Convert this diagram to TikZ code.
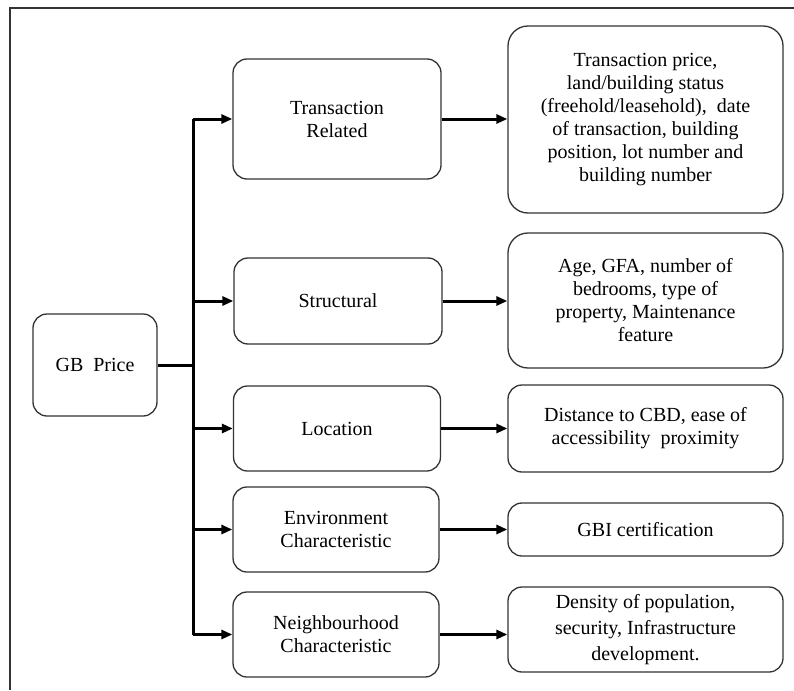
\documentclass[tikz,border=0pt]{standalone}
\usepackage{fontspec}
\setmainfont{Liberation Serif}
\newfontfamily\labelfont{Liberation Serif}[Scale=1.0]
\usetikzlibrary{arrows.meta}
\definecolor{edge}{HTML}{333333}
\begin{document}
\begin{tikzpicture}[x=1pt,y=-1pt,
  box/.style={draw=edge,line width=1.3pt,rounded corners=14pt,inner sep=0pt,
    align=center,font=\labelfont\fontsize{20}{23}\selectfont,text=black},
  link/.style={line width=3pt,black},
  arr/.style={link,-{Triangle[length=11pt,width=9pt]}}]
\useasboundingbox (0,0) rectangle (794,690);
% partial outer frame
\draw[edge,line width=1.5pt] (10,690) -- (10,8) -- (794,8);

% root
\node[box,minimum width=124pt,minimum height=102pt] (gb) at (95,365) {GB~~Price};

% factor groups
\node[box,minimum width=208pt,minimum height=120pt] (tr) at (337,119) {Transaction\\Related};
\node[box,minimum width=208pt,minimum height=86pt]  (st) at (338,301) {Structural};
\node[box,minimum width=207pt,minimum height=85pt]  (lo) at (337,428.5) {Location};
\node[box,minimum width=206pt,minimum height=85pt]  (en) at (336,529.5) {Environment\\Characteristic};
\node[box,minimum width=206pt,minimum height=85pt]  (ne) at (336,634.5) {Neighbourhood\\Characteristic};

% details
\node[box,rounded corners=20pt,minimum width=275pt,minimum height=187pt] (trd) at (645.5,119.5)
  {Transaction price,\\land/building status\\(freehold/leasehold),~~date\\of transaction, building\\position, lot number and\\building number};
\node[box,rounded corners=20pt,minimum width=275pt,minimum height=135pt] (std) at (645.5,300.5)
  {Age, GFA, number of\\bedrooms, type of\\property, Maintenance\\feature};
\node[box,minimum width=275pt,minimum height=87pt] (lod) at (645.5,428.5)
  {Distance to CBD, ease of\\accessibility~~proximity};
\node[box,minimum width=275pt,minimum height=53pt] (end) at (645.5,529.5) {GBI certification};
\node[box,font=\labelfont\fontsize{20}{26}\selectfont,minimum width=275pt,minimum height=85pt] (ned) at (645.5,629.5)
  {Density of population,\\security, Infrastructure\\development.};

% trunk from the root
\coordinate (trunk) at (193,365);
\draw[link] (gb.east) -- (trunk);
\draw[link] (trunk |- tr.west) -- (trunk |- ne.west);
\foreach \n in {tr,st,lo,en,ne}
  \draw[arr] (trunk |- \n.west) -- (\n.west);

% group to detail
\foreach \a/\b in {tr/trd,st/std,lo/lod,en/end,ne/ned}
  \draw[arr] (\a.east) -- (\a.east -| \b.west);
\end{tikzpicture}
\end{document}
